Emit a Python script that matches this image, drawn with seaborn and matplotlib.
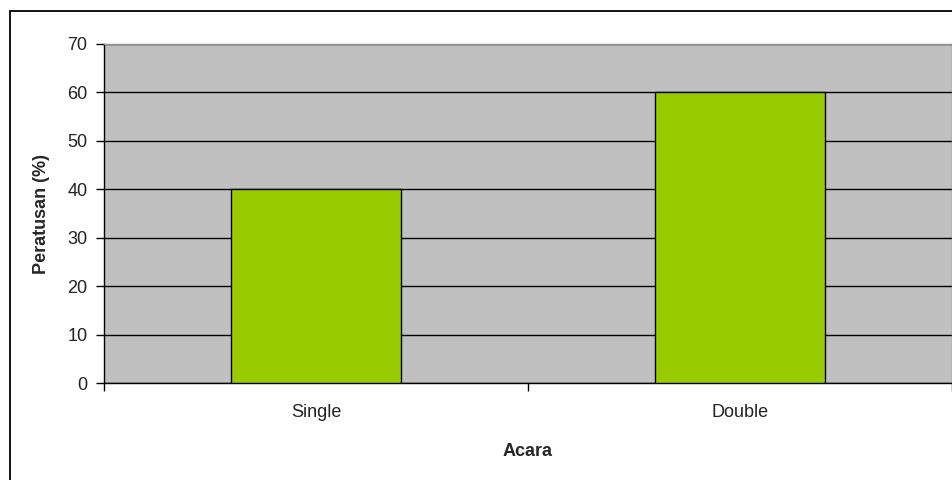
import matplotlib
matplotlib.use("Agg")
import matplotlib.pyplot as plt
import seaborn as sns
import pandas as pd
from matplotlib.patches import Rectangle

# values
categories = ["Single", "Double"]
percent = [40, 60]
y_ticks = [0, 10, 20, 30, 40, 50, 60, 70]

sns.set_theme(style="white")
plt.rcParams['font.family'] = ['Liberation Sans', 'DejaVu Sans']

df = pd.DataFrame({"Acara": categories, "Peratusan": percent})

fig = plt.figure(figsize=(9.53, 4.8), dpi=100)
ax = fig.add_axes([104 / 953, 1 - 383 / 480, 848 / 953, (383 - 44) / 480])
ax.set_facecolor("#c0c0c0")

sns.barplot(data=df, x="Acara", y="Peratusan", color="#99cc00", width=0.4,
            edgecolor="black", linewidth=1, saturation=1, ax=ax, zorder=3)

ax.set_ylim(0, 70)
ax.set_xlim(-0.5, 1.5)
ax.set_yticks(y_ticks)
ax.yaxis.grid(True, color="black", linewidth=1, zorder=1)
ax.set_axisbelow(True)

# x ticks at category boundaries, labels centred on categories
ax.set_xticks([-0.5, 0.5, 1.5])
ax.set_xticklabels([])
ax.set_xticks([0, 1], minor=True)
ax.set_xticklabels(categories, minor=True)
ax.tick_params(axis="x", which="major", direction="out", length=6, width=1, color="black", bottom=True)
ax.tick_params(axis="x", which="minor", length=0, pad=15, labelsize=13, labelcolor="#222222")
ax.tick_params(axis="y", direction="out", length=6, width=1, color="black", left=True,
               pad=6, labelsize=13, labelcolor="#222222")

for side in ["left", "bottom"]:
    ax.spines[side].set_color("black")
    ax.spines[side].set_linewidth(1)
for side in ["top", "right"]:
    ax.spines[side].set_color("#909090")
    ax.spines[side].set_linewidth(1)

ax.set_xlabel("Acara", fontsize=13, fontweight="bold", labelpad=16)
ax.set_ylabel("Peratusan (%)", fontsize=13, fontweight="bold", labelpad=12)

# outer chart frame (cut off at right and bottom in the reference)
fig.patches.append(Rectangle((10 / 953, -0.05), 1.2, 1 - 11 / 480 + 0.05,
                             transform=fig.transFigure, fill=False,
                             edgecolor="black", linewidth=1.3))

fig.savefig("out.png", dpi=100)
